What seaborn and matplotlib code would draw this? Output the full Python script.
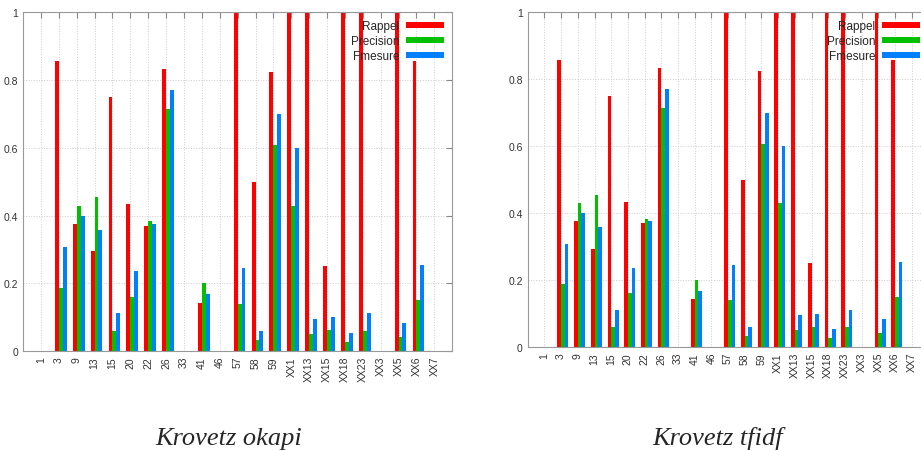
"""
Bar charts of Rappel / Precision / Fmesure per query, Krovetz okapi vs tfidf
"""
import pandas as pd
import numpy as np
import matplotlib
matplotlib.use("Agg")
import matplotlib.pyplot as plt
import seaborn as sns


##################################################
#-----------------Data----------------------------
##################################################

queries = ["1", "3", "9", "13", "15", "20", "22", "26", "33", "41", "46", "57",
           "58", "59", "XX1", "XX13", "XX15", "XX18", "XX23", "XX3", "XX5", "XX6", "XX7"]

rappel = [0, 0.857, 0.375, 0.294, 0.75, 0.433, 0.37, 0.833, 0, 0.143, 0, 1.0,
          0.5, 0.824, 1.0, 1.0, 0.25, 1.0, 1.0, 0, 1.0, 0.857, 0]
precision = [0, 0.187, 0.429, 0.455, 0.059, 0.16, 0.383, 0.714, 0, 0.2, 0, 0.14,
             0.032, 0.607, 0.429, 0.05, 0.061, 0.027, 0.059, 0, 0.043, 0.15, 0]
fmesure = [0, 0.308, 0.40, 0.357, 0.111, 0.235, 0.376, 0.769, 0, 0.167, 0, 0.246,
           0.06, 0.70, 0.60, 0.095, 0.10, 0.053, 0.111, 0, 0.083, 0.255, 0]

series = ["Rappel", "Precision", "Fmesure"]
colors = ["#ff0000", "#00c000", "#0080ff"]

titles = ["Krovetz okapi", "Krovetz tfidf"]


##################################################
#-----------------Functions-----------------------
##################################################

def build_frame():
    df = pd.DataFrame({"query": queries, "Rappel": rappel,
                       "Precision": precision, "Fmesure": fmesure})
    return df.melt(id_vars="query", var_name="mesure", value_name="score")


def plot_panel(ax, df):
    sns.barplot(data=df, x="query", y="score", hue="mesure", order=queries,
                hue_order=series, palette=colors, width=0.66, linewidth=0,
                saturation=1, ax=ax)

    # gnuplot-like offset: group starts just left of the tick
    for p in ax.patches:
        p.set_x(p.get_x() + 0.11)

    ax.set_xlim(-1, len(queries))
    ax.set_ylim(0, 1)
    ax.set_yticks([0, 0.2, 0.4, 0.6, 0.8, 1])
    ax.set_yticklabels(["0", "0.2", "0.4", "0.6", "0.8", "1"])
    ax.set_xlabel("")
    ax.set_ylabel("")
    ax.tick_params(axis="x", rotation=90)
    ax.tick_params(direction="in", top=True, right=True, length=4,
                   labelsize=7.5, color="#888888", labelcolor="#333333")
    ax.grid(True, linestyle=":", color="#cccccc", linewidth=0.7)
    ax.set_axisbelow(True)
    for s in ax.spines.values():
        s.set_color("#999999")

    handles, labels = ax.get_legend_handles_labels()
    ax.get_legend().remove()
    ax.legend(handles, labels, loc="upper right", frameon=False, markerfirst=False,
              fontsize=8.5, handlelength=3.2, handleheight=0.45, labelspacing=0.25,
              borderaxespad=0.4, handletextpad=0.6, borderpad=0.3)


##################################################
#-----------------Plot----------------------------
##################################################

sns.set_style("white")
plt.rcParams["font.family"] = ["Liberation Sans", "DejaVu Sans"]
df = build_frame()

fig = plt.figure(figsize=(9.21, 4.52), dpi=100)
ax1 = fig.add_axes([0.025, 0.221, 0.466, 0.750])
ax2 = fig.add_axes([0.573, 0.230, 0.435, 0.741])

plot_panel(ax1, df)
plot_panel(ax2, df)

fig.text(229 / 921, 1 - 439 / 452, titles[0], ha="center", va="center",
         family="Liberation Serif", style="italic", fontsize=19)
fig.text(718 / 921, 1 - 439 / 452, titles[1], ha="center", va="center",
         family="Liberation Serif", style="italic", fontsize=19)

plt.savefig("out.png", dpi=100)
